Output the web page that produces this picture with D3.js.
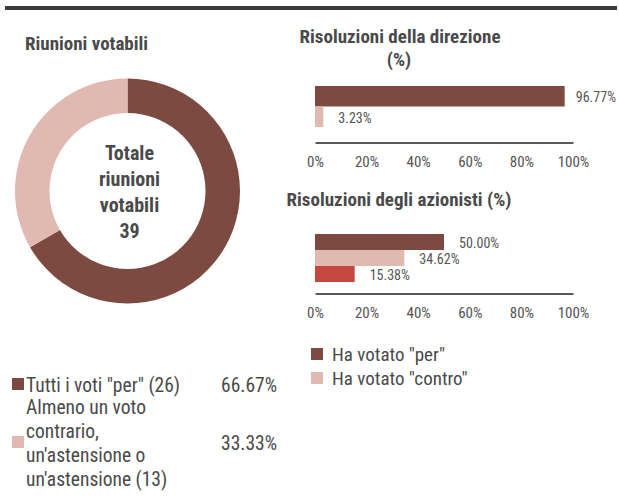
<!DOCTYPE html>
<html>
<head>
<meta charset="utf-8">
<script src="https://cdn.jsdelivr.net/npm/d3@7"></script>
<style>
  body { margin: 0; background: #fff; }
  svg { display: block; font-family: 'Roboto Condensed', 'Roboto', sans-serif; }
</style>
</head>
<body>
<svg id="chart" width="619" height="499"></svg>
<script>
// --- data ---
const donutCategories = ["per", "contro"];
const donutLabels = [
  ['Tutti i voti "per" (26)'],
  ["Almeno un voto", "contrario,", "un'astensione o", "un'astensione (13)"]
];
const donutValues = [66.67, 33.33];
const totalMeetings = 39;

const voteCategories = ["per", "contro", "astenuto"];
const voteLegend = ['Ha votato "per"', 'Ha votato "contro"'];
const directionValues = [96.77, 3.23];
const shareholderValues = [50.00, 34.62, 15.38];
const xTicks = [0, 20, 40, 60, 80, 100];

// colours
const COLORS = { per: "#7d4a41", contro: "#e0b9b0", astenuto: "#c5483f" };
const TEXT = "#4a4a4a";

const svg = d3.select("#chart");

// top rule
svg.append("rect").attr("x", 5).attr("y", 6).attr("width", 612).attr("height", 4).attr("fill", "#3a3a3a");

// --- donut ---
svg.append("text").attr("x", 25).attr("y", 50)
  .attr("font-size", 19).attr("font-weight", "bold").attr("fill", TEXT)
  .text("Riunioni votabili");

const cx = 127.5, cy = 191;
const pie = d3.pie().sort(null).value(d => d);
const arc = d3.arc().innerRadius(78).outerRadius(112.5);
const g = svg.append("g").attr("transform", `translate(${cx},${cy})`);
g.selectAll("path").data(pie(donutValues)).join("path")
  .attr("d", arc)
  .attr("fill", (d, i) => COLORS[donutCategories[i]]);

const centerLines = ["Totale", "riunioni", "votabili", String(totalMeetings)];
g.append("text")
  .attr("text-anchor", "middle").attr("font-size", 20).attr("font-weight", "bold").attr("fill", TEXT)
  .selectAll("tspan").data(centerLines).join("tspan")
  .attr("x", 2).attr("y", (d, i) => -31 + i * 26)
  .text(d => d);

// donut legend
const lineH = 24;
const legendRows = [{ y: 385 }, { y: 443 }];
donutLabels.forEach((lines, i) => {
  const row = svg.append("g");
  row.append("rect").attr("x", 12).attr("y", legendRows[i].y - 7).attr("width", 12).attr("height", 12)
    .attr("fill", COLORS[donutCategories[i]]);
  const top = legendRows[i].y - (lines.length - 1) * lineH / 2;
  row.append("text").attr("font-size", 19.5).attr("fill", TEXT).attr("dominant-baseline", "central")
    .selectAll("tspan").data(lines).join("tspan")
    .attr("x", 26).attr("y", (d, j) => top + j * lineH)
    .text(d => d);
  row.append("text").attr("x", 221).attr("y", legendRows[i].y)
    .attr("font-size", 19.5).attr("fill", TEXT).attr("dominant-baseline", "central")
    .text(donutValues[i].toFixed(2) + "%");
});

// --- bar charts ---
const x = d3.scaleLinear().domain([0, 100]).range([315, 573]);

function barChart(values, bandRange, axisY) {
  const y = d3.scaleBand().domain(voteCategories.slice(0, values.length)).range(bandRange).padding(0);
  const gb = svg.append("g");
  gb.selectAll("rect").data(values).join("rect")
    .attr("x", x(0)).attr("y", (d, i) => y(voteCategories[i]))
    .attr("width", d => x(d) - x(0)).attr("height", y.bandwidth())
    .attr("fill", (d, i) => COLORS[voteCategories[i]]);
  gb.selectAll("text.val").data(values).join("text").attr("class", "val")
    .attr("y", (d, i) => y(voteCategories[i]) + y.bandwidth() / 2 + 1)
    .attr("font-size", 14).attr("fill", "#555").attr("dominant-baseline", "central")
    .text(d => d.toFixed(2) + "%")
    .attr("x", function (d) {
      const w = this.getComputedTextLength();
      return Math.min(x(d) + 15, 616 - w);
    });

  const axis = d3.axisBottom(x).tickValues(xTicks).tickFormat(d => d + "%").tickSize(0).tickPadding(14);
  const ga = svg.append("g").attr("transform", `translate(0,${axisY})`).call(axis);
  ga.select(".domain").attr("stroke", "#222").attr("stroke-width", 1.5);
  ga.attr("font-family", null).attr("font-size", null);
  ga.selectAll("text").attr("font-size", 15).attr("fill", "#555");
}

svg.append("text").attr("x", 400).attr("y", 43).attr("text-anchor", "middle")
  .attr("font-size", 19).attr("font-weight", "bold").attr("fill", TEXT)
  .text("Risoluzioni della direzione");
svg.append("text").attr("x", 399).attr("y", 66).attr("text-anchor", "middle")
  .attr("font-size", 19).attr("font-weight", "bold").attr("fill", TEXT)
  .text("(%)");
barChart(directionValues, [86, 127], 142.5);

svg.append("text").attr("x", 399).attr("y", 206).attr("text-anchor", "middle")
  .attr("font-size", 19).attr("font-weight", "bold").attr("fill", TEXT)
  .text("Risoluzioni degli azionisti (%)");
barChart(shareholderValues, [234, 282], 293.5);

// bar legend
voteLegend.forEach((label, i) => {
  const ly = 354 + i * 24;
  svg.append("rect").attr("x", 311).attr("y", ly - 6).attr("width", 12).attr("height", 12)
    .attr("fill", COLORS[voteCategories[i]]);
  svg.append("text").attr("x", 332).attr("y", ly).attr("dominant-baseline", "central")
    .attr("font-size", 19).attr("fill", TEXT).text(label);
});
</script>
</body>
</html>
